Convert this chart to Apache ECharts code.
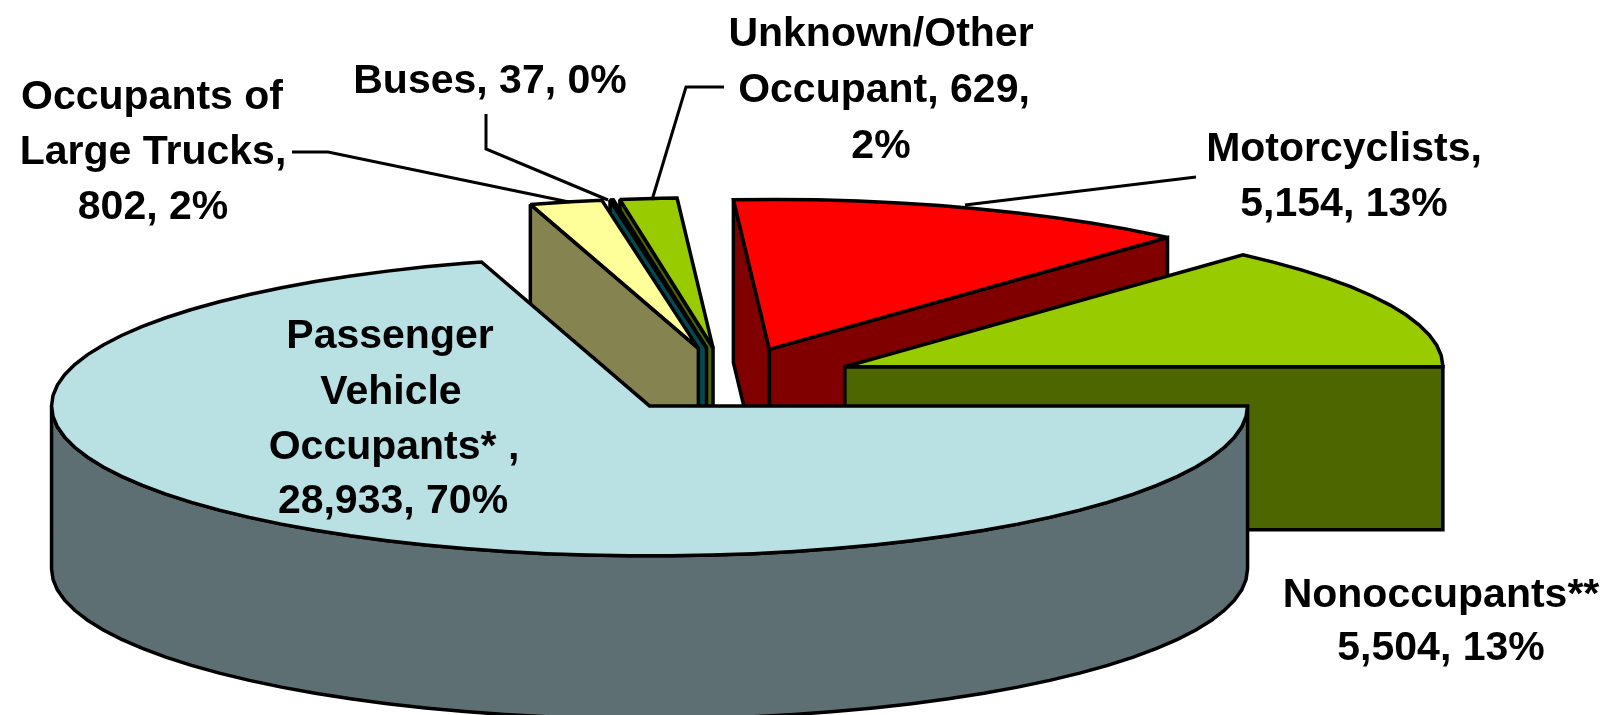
<!DOCTYPE html>
<html>
<head>
<meta charset="utf-8">
<title>Fatalities by person type</title>
<style>
  html, body { margin: 0; padding: 0; background: #fff; }
  #chart { width: 1610px; height: 715px; }
</style>
<script src="https://cdn.jsdelivr.net/npm/echarts@6/dist/echarts.min.js"></script>
</head>
<body>
<div id="chart"></div>
<script>
// data, in pie order (clockwise from 3 o'clock)
const categories = ['Passenger Vehicle Occupants*', 'Occupants of Large Trucks', 'Buses', 'Unknown/Other Occupant', 'Motorcyclists', 'Nonoccupants**'];
const fatalities = [28933, 802, 37, 629, 5154, 5504];
const topColors = ['#B9E0E3', '#FFFF99', '#006670', '#99CC00', '#FF0000', '#99CC00'];
const sideColors = ['#5E6F73', '#858350', '#004A52', '#4D6600', '#800000', '#4D6600'];
// back slices get painted first
const drawOrder = [4, 5, 3, 2, 1, 0];

// 3d pie layout, in axis units (same as pixels here)
const centerX = 727, centerY = 380;
const radiusX = 598, radiusY = 150;
const depth = 163;
const explode = 0.216;
const firstAngle = 90;
const arcStep = 4;

const total = fatalities.reduce((a, b) => a + b, 0);
const sliceAngles = [];
let running = firstAngle;
fatalities.forEach(v => {
  const sweep = v / total * 360;
  sliceAngles.push([running, running + sweep]);
  running += sweep;
});

const rad = d => d * Math.PI / 180;

function renderSlice(params, api) {
  const idx = api.value(0);
  const [a0, a1] = sliceAngles[idx];
  const mid = rad((a0 + a1) / 2);
  const cx = centerX + explode * radiusX * Math.sin(mid);
  const cy = centerY - explode * radiusY * Math.cos(mid);
  const rimPt = (a, dz) => [cx + radiusX * Math.sin(rad(a)), cy - radiusY * Math.cos(rad(a)) + dz];
  const toPx = pts => pts.map(p => api.coord(p));
  const arc = (from, to, dz) => {
    const pts = [];
    for (let a = from; a < to; a += arcStep) pts.push(rimPt(a, dz));
    pts.push(rimPt(to, dz));
    return pts;
  };
  const poly = (pts, fill) => ({
    type: 'polygon',
    shape: { points: toPx(pts) },
    style: { fill: fill, stroke: '#000', lineWidth: 3.5, lineJoin: 'miter', miterLimit: 2 }
  });

  const children = [];
  const side = sideColors[idx];
  // cut faces, only the ones turned to the viewer
  const cutFace = a => poly([[cx, cy], rimPt(a, 0), rimPt(a, depth), [cx, cy + depth]], side);
  if (Math.sin(rad(a1)) > 0.001) children.push(cutFace(a1));
  if (Math.sin(rad(a0)) < -0.001) children.push(cutFace(a0));
  // outer wall, front half of the rim only
  const wallFrom = Math.max(a0, 90), wallTo = Math.min(a1, 270);
  if (wallTo > wallFrom) {
    children.push(poly(arc(wallFrom, wallTo, 0).concat(arc(wallFrom, wallTo, depth).reverse()), side));
  }
  // top
  children.push(poly([[cx, cy]].concat(arc(a0, a1, 0)), topColors[idx]));
  return { type: 'group', children: children };
}

// label lines: text, centre x, top y
const labelLines = [
  ['Unknown/Other', 881, 14], ['Occupant, 629,', 884, 70], ['2%', 881, 126],
  ['Motorcyclists,', 1344, 129], ['5,154, 13%', 1344, 184],
  ['Occupants of', 152, 77], ['Large Trucks,', 153, 132], ['802, 2%', 153, 187],
  ['Buses, 37, 0%', 490, 61],
  ['Passenger', 390, 316], ['Vehicle', 391, 372], ['Occupants* ,', 394, 427], ['28,933, 70%', 393, 481],
  ['Nonoccupants**', 1441, 575], ['5,504, 13%', 1441, 628]
];
const leaderLines = [
  [[292, 152], [328, 152], [569, 202]],
  [[486, 114], [486, 149], [608, 200]],
  [[652, 200], [686, 87], [724, 87]],
  [[965, 205], [1196, 177]]
];

const chart = echarts.init(document.getElementById('chart'));
chart.setOption({
  animation: false,
  backgroundColor: '#fff',
  grid: { left: 0, right: 0, top: 0, bottom: 0 },
  xAxis: { type: 'value', min: 0, max: 1610, show: false },
  yAxis: { type: 'value', min: 0, max: 715, inverse: true, show: false },
  series: [{
    type: 'custom',
    name: 'Fatalities',
    coordinateSystem: 'cartesian2d',
    clip: true,
    renderItem: renderSlice,
    encode: { x: 0, y: 1 },
    data: drawOrder.map(i => ({ name: categories[i], value: [i, fatalities[i]] }))
  }],
  graphic: {
    elements: leaderLines.map(pts => ({
      type: 'polyline',
      z: 5,
      shape: { points: pts },
      style: { stroke: '#000', lineWidth: 3, fill: null }
    })).concat(labelLines.map(l => ({
      type: 'text',
      z: 10,
      x: l[1],
      y: l[2],
      style: {
        text: l[0],
        fill: '#000',
        font: 'bold 41px "Liberation Sans", Arial, sans-serif',
        textAlign: 'center',
        textVerticalAlign: 'top'
      }
    })))
  }
});
</script>
</body>
</html>
